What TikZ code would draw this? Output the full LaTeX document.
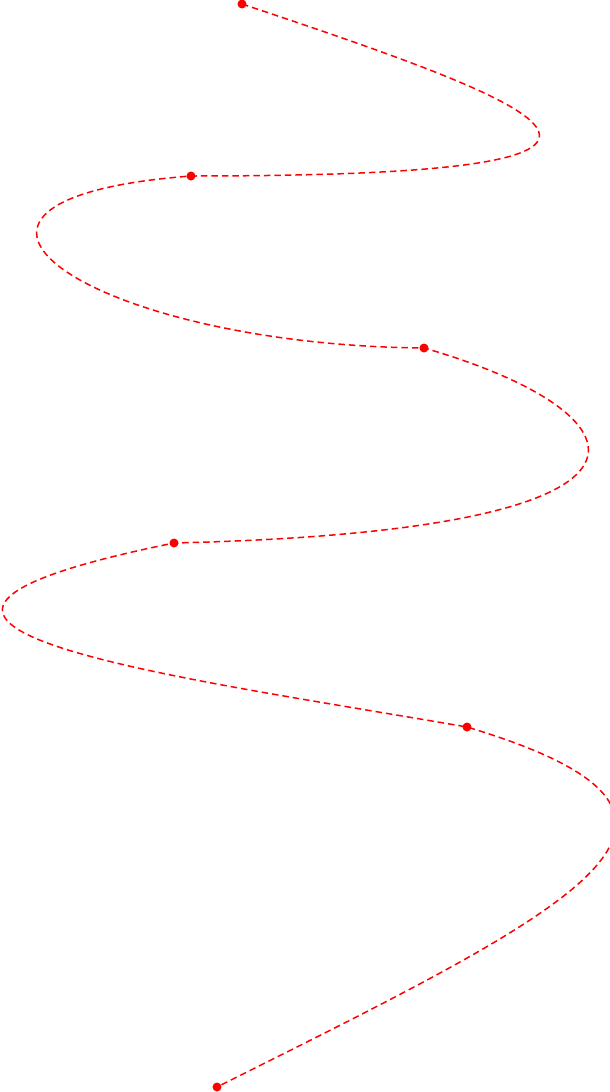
\documentclass[tikz,border=0pt]{standalone}
\begin{document}
\begin{tikzpicture}[x=1pt,y=-1pt,
  curve/.style={draw=red,line width=1.5pt,dash pattern=on 6.5pt off 4pt},
  dotmark/.style={fill=red}]
\useasboundingbox (0,0) rectangle (610,1092);
\coordinate (p1) at (242,4);
\coordinate (p2) at (191,176);
\coordinate (p3) at (424,348);
\coordinate (p4) at (174,543);
\coordinate (p5) at (467,727);
\coordinate (p6) at (217,1087);
\path[curve] (p1) .. controls (560,110) and (730,176) .. (p2)
  .. controls (-125,200) and (90,345) .. (p3)
  .. controls (640,410) and (720,530) .. (p4)
  .. controls (-230,625) and (167,675) .. (p5)
  .. controls (767,817) and (577,907) .. (p6);
\foreach \p in {p1,p2,p3,p4,p5,p6} \fill[dotmark] (\p) circle (4.5pt);
\end{tikzpicture}
\end{document}
